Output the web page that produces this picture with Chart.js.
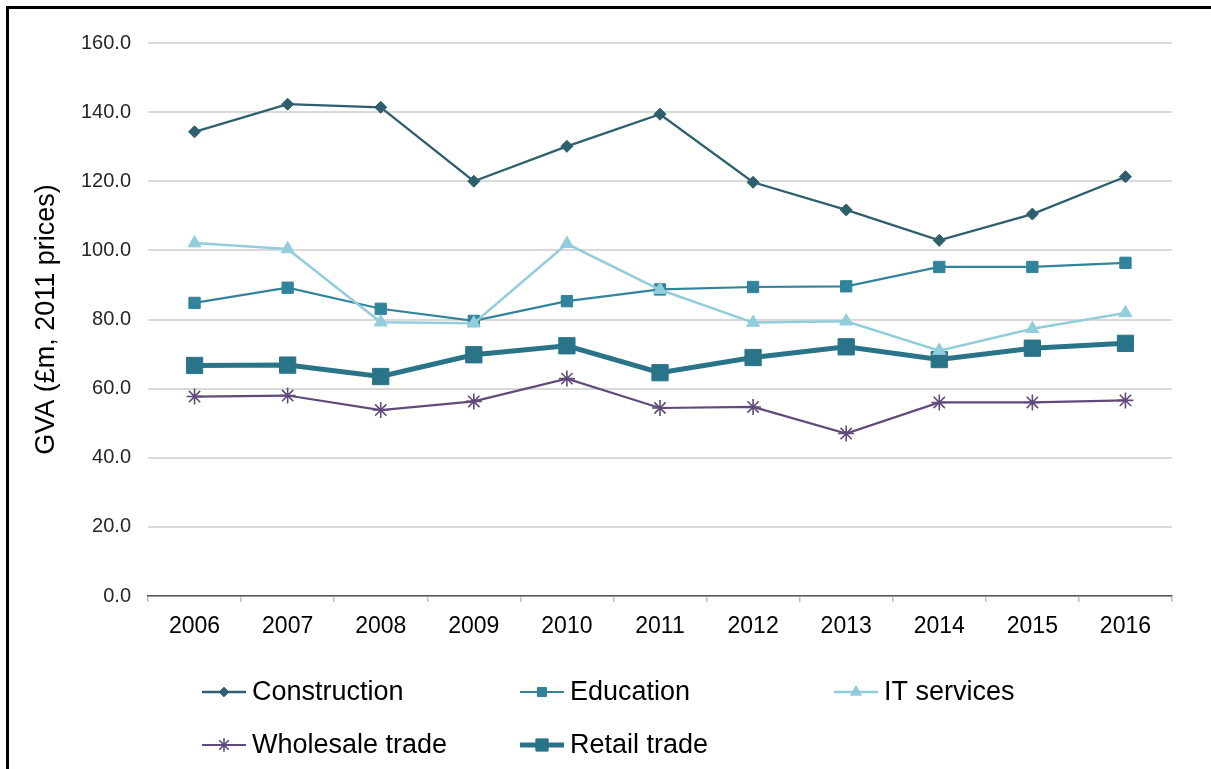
<!DOCTYPE html>
<html>
<head>
<meta charset="utf-8">
<script src="https://cdn.jsdelivr.net/npm/chart.js@4/dist/chart.umd.min.js"></script>
<style>
  html, body { margin: 0; padding: 0; background: #fff; overflow: hidden; }
  #wrap { position: relative; width: 1211px; height: 769px; }
  canvas { display: block; }
</style>
</head>
<body>
<div id="wrap"><canvas id="gva" width="1211" height="769"></canvas></div>
<script>
// Gross value added by sector, £m at 2011 prices
const years = ['2006', '2007', '2008', '2009', '2010', '2011', '2012', '2013', '2014', '2015', '2016'];
const construction = [134.3, 142.3, 141.4, 120.0, 130.1, 139.4, 119.7, 111.7, 102.9, 110.5, 121.3];
const education    = [84.8, 89.2, 83.1, 79.6, 85.3, 88.7, 89.4, 89.6, 95.2, 95.2, 96.4];
const itServices   = [102.1, 100.4, 79.2, 78.9, 101.9, 88.6, 79.1, 79.5, 71.0, 77.3, 81.9];
const wholesale    = [57.7, 58.0, 53.8, 56.3, 62.9, 54.4, 54.7, 47.0, 56.0, 56.0, 56.6];
const retail       = [66.7, 66.8, 63.5, 69.8, 72.4, 64.6, 69.0, 72.1, 68.4, 71.7, 73.1];
const yTicks = [0, 20, 40, 60, 80, 100, 120, 140, 160];

const FONT = '"Liberation Sans", Arial, sans-serif';

// Legend layout: two rows, three columns, line sample then label
const legendSlots = [
  { ds: 0, x: 202, y: 692 },
  { ds: 1, x: 520, y: 692 },
  { ds: 2, x: 834, y: 692 },
  { ds: 3, x: 202, y: 745 },
  { ds: 4, x: 520, y: 745 }
];
const legendMarkerScale = [0.8, 0.8, 0.85, 0.85, 0.75];

const framePlugin = {
  id: 'frame',
  beforeDraw(chart) {
    const ctx = chart.ctx;
    ctx.save();
    ctx.fillStyle = '#fff';
    ctx.fillRect(0, 0, chart.width, chart.height);
    ctx.fillStyle = '#000';
    ctx.fillRect(6, 6, chart.width - 6, 3);
    ctx.fillRect(6, 6, 3, chart.height - 6);
    ctx.restore();
  }
};

const legendPlugin = {
  id: 'gridLegend',
  afterDraw(chart) {
    const ctx = chart.ctx;
    ctx.save();
    legendSlots.forEach((slot, i) => {
      const ds = chart.data.datasets[slot.ds];
      const x1 = slot.x, x2 = slot.x + 44, y = slot.y;
      ctx.beginPath();
      ctx.strokeStyle = ds.borderColor;
      ctx.lineWidth = ds.borderWidth;
      ctx.moveTo(x1, y);
      ctx.lineTo(x2, y);
      ctx.stroke();
      ctx.fillStyle = ds.pointBackgroundColor;
      ctx.strokeStyle = ds.pointBorderColor;
      ctx.lineWidth = ds.pointBorderWidth || 1;
      Chart.helpers.drawPoint(ctx, {
        pointStyle: ds.pointStyle,
        radius: ds.pointRadius * legendMarkerScale[i],
        borderWidth: ds.pointBorderWidth || 1,
        rotation: 0
      }, (x1 + x2) / 2, y);
      ctx.fillStyle = '#000';
      ctx.font = '27px ' + FONT;
      ctx.textBaseline = 'middle';
      ctx.textAlign = 'left';
      ctx.fillText(ds.label, x2 + 6, y + 1);
    });
    ctx.restore();
  }
};

function series(label, data, color, width, style, radius, order) {
  return {
    label, data, order,
    borderColor: color,
    backgroundColor: color,
    borderWidth: width,
    pointStyle: style,
    pointRadius: radius,
    pointHoverRadius: radius,
    pointBackgroundColor: color,
    pointBorderColor: color,
    pointBorderWidth: style === 'star' ? 1.6 : 1,
    tension: 0,
    fill: false
  };
}

new Chart(document.getElementById('gva'), {
  type: 'line',
  data: {
    labels: years,
    datasets: [
      series('Construction', construction, '#2d5f6c', 2.3, 'rectRot', 6, 1),
      series('Education', education, '#31849b', 2.2, 'rect', 8, 2),
      series('IT services', itServices, '#92cddc', 2.5, 'triangle', 7.5, 1),
      series('Wholesale trade', wholesale, '#604a7b', 2.2, 'star', 8, 3),
      series('Retail trade', retail, '#2a7489', 5, 'rect', 11.5, 3)
    ]
  },
  options: {
    responsive: false,
    animation: false,
    events: [],
    layout: { padding: { top: 43, right: 39, bottom: 0, left: 0 } },
    plugins: {
      legend: { display: false },
      tooltip: { enabled: false }
    },
    scales: {
      x: {
        offset: true,
        grid: {
          offset: true,
          drawOnChartArea: false,
          drawTicks: true,
          tickLength: 6,
          color: '#bfbfbf',
          lineWidth: 1.5
        },
        border: { display: true, color: '#595959', width: 1.5 },
        ticks: {
          color: '#000',
          font: { family: FONT, size: 23 },
          padding: 11,
          maxRotation: 0,
          autoSkip: false
        },
        afterFit(scale) { scale.height = 173; }
      },
      y: {
        min: 0,
        max: 160,
        afterBuildTicks(scale) { scale.ticks = yTicks.map(v => ({ value: v })); },
        grid: {
          color: '#d9d9d9',
          lineWidth: 2,
          drawTicks: false
        },
        border: { display: false },
        ticks: {
          color: '#262626',
          font: { family: FONT, size: 20 },
          padding: 17,
          callback: v => Number(v).toFixed(1)
        },
        title: {
          display: true,
          text: 'GVA (£m, 2011 prices)',
          color: '#000',
          font: { family: FONT, size: 27 },
          padding: { top: 30, bottom: 0 }
        },
        afterFit(scale) { scale.width = 148; }
      }
    }
  },
  plugins: [framePlugin, legendPlugin]
});
</script>
</body>
</html>
